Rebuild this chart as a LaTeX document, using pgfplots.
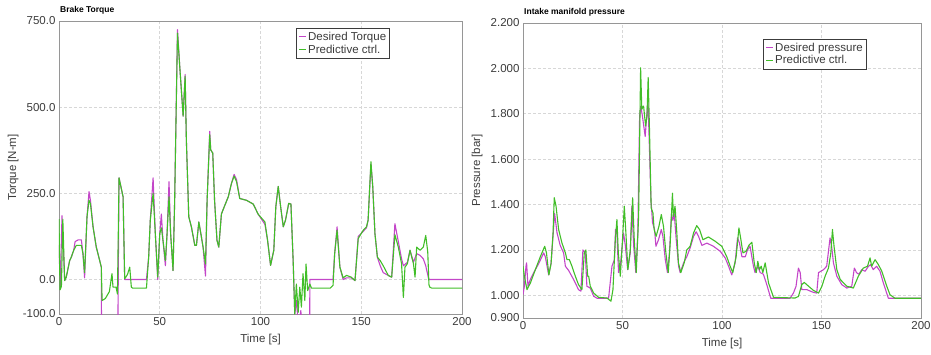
\documentclass[border=0pt]{standalone}
\usepackage{pgfplots}
\pgfplotsset{compat=1.18}
\usepackage{fontspec}
\setmainfont{Liberation Sans}
\definecolor{cmag}{RGB}{195,70,200}
\definecolor{cgrn}{RGB}{65,190,40}
\definecolor{cframe}{RGB}{150,150,150}
\definecolor{cgrid}{RGB}{215,215,215}
\definecolor{ctext}{RGB}{60,60,60}
\pgfplotsset{
  common/.style={
    scale only axis,
    anchor=south west,
    xmin=0, xmax=200,
    xtick={0,50,100,150,200},
    grid=major,
    major grid style={dash pattern=on 3pt off 2pt, cgrid, line width=0.6pt},
    axis line style={cframe, line width=0.8pt},
    major tick length=0pt,
    tick label style={font=\fontsize{11.5}{12}\selectfont, text=ctext},
    label style={font=\fontsize{11.5}{12}\selectfont, text=ctext},
    /pgf/number format/assume math mode=true,
    xticklabel style={/pgf/number format/precision=0},
    legend cell align=left,
    legend style={draw=ctext, line width=0.6pt, font=\fontsize{11.5}{15}\selectfont, text=ctext,
      inner xsep=2pt, inner ysep=2pt, anchor=north west, row sep=0pt,
      nodes={inner sep=1.5pt}},
    legend image code/.code={\draw[line width=1.4pt, #1] (0pt,0pt) -- (7pt,0pt);},
    every axis plot/.append style={line width=1.1pt, line join=round},
    title style={font=\fontsize{8.5}{9}\selectfont\bfseries, anchor=south west, at={(0,1)}, inner sep=1pt},
  }
}
\pgfplotstableread{
t v
0 100
0.6 -20
1.5 185
2.8 -3
3.6 7
5.3 55
6.1 65
7.3 85
8 110
9.5 115
11.1 115
11.9 75
12.7 5
13.9 182
14.9 255
15.6 230
16.9 153
18.5 94
20.2 55
21.0 36
21.1 -150
29.2 -150
29.8 295
31.8 240
32.6 0
43.4 0
44.5 65
45.3 172
46.7 295
47.8 133
49.0 0
50 133
50.8 190
51.6 114
52.8 40
53.6 130
54.6 284
55.4 133
56.6 26
57.4 230
58.8 725
59.9 620
60.7 552
61.6 474
62.6 595
63.2 406
64.4 182
65.7 153
67.4 99
68.2 99
69.4 167
70.4 133
71.5 94
72.7 10
73.5 230
74.8 430
75.3 376
76.3 367
77.2 230
78.4 114
79.3 94
80.6 190
82 211
84 240
85.6 279
86.9 305
88.1 290
89.7 235
93 230
96.4 219
98.8 190
102.2 160
103.5 114
105 41
106.6 85
107.6 211
108.8 270
110 211
111.3 153
112.4 172
114 221
115.1 219
116.2 55
117 -100
118 -60
118.7 -150
120 -90
120.8 -150
124.4 -150
124.5 0
136 0
136.8 75
138 153
139.4 36
141 0
142.7 5
145 5
146.9 -3
148.5 125
151 140
152.6 150
153.4 172
154.8 335
155.7 270
156.8 133
158 65
159.4 40
160.9 20
163.4 12
165.1 7
166.7 162
168.4 110
170 60
170.9 40
172.9 50
174.2 85
175.9 50
177.5 75
179.2 70
180.8 60
182 40
183.5 0
200 0
}\torqdes
\pgfplotstableread{
t v
0 175
0.5 -30
1.2 -20
1.9 175
2.8 -3
3.6 7
5.3 55
6.1 65
7.3 85
8.6 99
11.1 99
11.9 75
12.7 20
13.9 182
14.9 230
15.6 220
16.9 153
18.5 94
20.2 55
21.0 36
21.4 -61
23 -55
25 -35
26.3 17
26.8 -22
28.3 -22
29.0 -42
29.8 295
31.8 240
32.6 2
34 15
35.1 36
35.9 -22
36.5 -25
43.4 -25
44.5 65
45.3 172
46.7 250
47.8 133
49.0 7
50 133
50.8 150
51.6 114
52.8 55
53.6 130
54.6 240
55.4 133
56.6 26
57.4 230
58.8 715
59.9 620
60.7 552
61.6 474
62.6 590
63.2 406
64.4 182
65.7 153
67.4 99
68.2 99
69.4 167
70.4 133
71.5 94
72.7 45
73.5 230
74.8 420
75.3 376
76.3 367
77.2 230
78.4 114
79.3 94
80.6 190
82 211
84 240
85.6 279
86.9 300
88.1 284
89.7 235
93 230
96.4 219
98.8 190
102.2 167
103.5 114
105 41
106.6 85
107.6 211
108.8 270
110 211
111.3 153
112.4 172
114 221
115.1 219
116.2 55
117 -100
117.8 -13
118.7 -95
119.5 -22
120.3 -80
121.1 17
122 -61
122.6 45
123.4 -32
124.5 -13
125.3 -25
134.6 -25
136 -17
136.8 75
138 143
139.4 36
141 5
142.7 12
145 7
146.9 -3
148.5 119
151 143
152.6 153
153.4 172
154.8 342
155.7 270
156.8 133
158 65
159.4 55
160.9 40
163.4 12
165.1 7
166.7 130
168.4 94
170 46
170.9 -52
171.7 36
172.9 46
174.2 85
175.9 46
176.7 7
177.5 94
179.2 85
180.8 94
182 128
183 80
183.6 -15
184 -22
185 -25
200 -25
}\torqpred
\pgfplotstableread{
t v
0 1.003
0.7 1.04
1.5 1.128
1.8 1.143
2.5 1.04
3.7 1.07
5.4 1.10
7.9 1.14
10.4 1.187
11.2 1.17
12.9 1.09
14.1 1.14
15.4 1.30
15.9 1.36
17.1 1.275
18.7 1.22
20.4 1.187
21.3 1.128
22.9 1.11
25.4 1.07
27.9 1.025
29.1 1.018
30.1 1.20
31.3 1.187
32.1 1.04
33.8 1.032
35.5 0.996
37.2 0.987
43.0 0.987
44.7 1.128
45.9 1.157
46.5 1.29
47.2 1.27
48.0 1.10
48.9 1.128
50.5 1.275
51.4 1.22
52.6 1.113
53.9 1.187
54.7 1.393
55.6 1.22
56.7 1.10
57.7 1.275
58.6 1.79
59.2 1.834
60.0 1.79
61.4 1.70
62.8 1.863
63.4 1.687
64.3 1.42
65.1 1.32
66.1 1.29
66.8 1.216
68.1 1.245
69.5 1.29
70.3 1.26
71.5 1.157
72.6 1.10
73.6 1.187
74.6 1.36
75.3 1.33
76.0 1.36
77.0 1.245
78.2 1.128
79.0 1.10
80.7 1.143
82.3 1.17
84.0 1.209
85.7 1.26
87.0 1.28
88.2 1.26
89.9 1.22
92.4 1.23
95.7 1.216
99.1 1.194
101.6 1.165
103.3 1.128
104.9 1.09
106.6 1.143
107.8 1.253
108.8 1.23
110.0 1.17
111.7 1.17
112.8 1.20
114.1 1.216
115.8 1.128
116.6 1.10
118.0 1.128
119.2 1.10
120.8 1.093
122.5 1.047
124.5 0.987
134.2 0.987
135.9 1.01
137.2 1.04
138.4 1.12
139.3 1.10
140.1 1.025
142.6 1.025
145.9 1.013
147.6 1.01
148.5 1.10
151.0 1.113
152.6 1.128
154.3 1.253
155.1 1.216
156.0 1.143
157.7 1.084
160.2 1.047
162.7 1.032
165.2 1.04
166.5 1.12
167.6 1.10
168.8 1.093
170.2 1.113
171.9 1.106
173.6 1.128
174.7 1.135
176.0 1.113
177.7 1.128
179.4 1.106
181.1 1.054
183.6 0.987
200 0.987
}\presdes
\pgfplotstableread{
t v
0 1.128
0.7 1.084
2.0 1.025
3.7 1.054
6.2 1.113
8.7 1.17
10.9 1.216
11.8 1.187
13.0 1.09
14.1 1.14
15.1 1.275
15.7 1.43
16.6 1.393
17.9 1.29
19.6 1.23
21.3 1.187
22.1 1.157
23.3 1.157
24.6 1.128
26.3 1.084
27.9 1.047
29.6 1.025
30.8 1.187
31.6 1.20
32.5 1.084
33.0 1.084
33.8 1.04
35.5 1.01
38.0 0.991
42.2 0.988
44.2 0.974
45.2 1.025
46.4 1.245
47.2 1.334
47.9 1.187
48.9 1.084
50.0 1.245
50.9 1.393
51.7 1.275
52.7 1.113
53.9 1.20
55.1 1.43
55.9 1.245
56.9 1.10
58.1 1.348
59.1 2.003
59.7 1.82
60.6 1.834
61.6 1.746
62.3 1.79
62.9 1.96
63.6 1.716
64.4 1.385
65.3 1.363
65.9 1.29
66.9 1.26
68.3 1.304
69.5 1.356
70.6 1.304
71.8 1.187
73.0 1.10
74.0 1.234
75.1 1.45
75.6 1.348
76.4 1.393
77.3 1.275
78.1 1.143
79.3 1.10
81.0 1.143
82.3 1.20
84.0 1.216
85.7 1.275
87.3 1.307
88.7 1.29
90.4 1.245
93.2 1.257
96.6 1.238
99.9 1.216
102.4 1.17
104.1 1.128
105.4 1.10
107.1 1.17
108.5 1.297
109.5 1.245
110.5 1.187
112.1 1.194
113.5 1.22
115.0 1.234
116.2 1.143
117.2 1.10
118.0 1.15
118.8 1.113
119.7 1.128
120.5 1.10
121.7 1.143
123.4 1.054
125.9 0.991
136.7 0.988
138.4 0.995
140.1 1.047
141.3 1.057
143.5 1.04
145.9 1.022
148.5 1.01
150.2 1.04
151.8 1.084
153.5 1.12
154.7 1.187
155.5 1.29
156.3 1.216
157.7 1.113
159.4 1.07
162.7 1.04
166.0 1.032
168.5 1.084
171.0 1.12
173.1 1.128
174.4 1.165
175.2 1.128
176.9 1.157
178.6 1.135
180.3 1.106
182.8 1.04
184.4 1.003
186.9 0.987
200 0.987
}\prespred
\begin{document}
\begin{tikzpicture}
\path[use as bounding box] (0pt,0pt) rectangle (931pt,354pt);
\begin{axis}[common,
  at={(59pt,40pt)}, width=403pt, height=293pt,
  ymin=-100, ymax=750,
  ytick={-100,0,250,500,750},
  yticklabel style={/pgf/number format/.cd, fixed, fixed zerofill, precision=1},
  ylabel={Torque [N-m]},
  xlabel={Time [s]},
  ylabel style={at={(axis description cs:0,0.5)}, anchor=south, yshift=37pt},
  xlabel style={at={(axis description cs:0.5,0)}, anchor=north, yshift=-17pt},
  title={Brake Torque},
  legend style={at={(0.588,0.976)}},
]
\addplot[cmag] table[x=t,y=v] {\torqdes};
\addlegendentry{Desired Torque}
\addplot[cgrn] table[x=t,y=v] {\torqpred};
\addlegendentry{Predictive ctrl.}
\end{axis}
\begin{axis}[common,
  at={(523pt,36pt)}, width=398pt, height=295pt,
  ymin=0.9, ymax=2.2,
  ytick={0.9,1.0,1.2,1.4,1.6,1.8,2.0,2.2},
  yticklabel style={/pgf/number format/.cd, fixed, fixed zerofill, precision=3},
  ylabel={Pressure [bar]},
  xlabel={Time [s]},
  ylabel style={at={(axis description cs:0,0.5)}, anchor=south, yshift=37pt},
  xlabel style={at={(axis description cs:0.5,0)}, anchor=north, yshift=-17pt},
  title={Intake manifold pressure},
  legend style={at={(0.603,0.946)}},
]
\addplot[cmag] table[x=t,y=v] {\presdes};
\addlegendentry{Desired pressure}
\addplot[cgrn] table[x=t,y=v] {\prespred};
\addlegendentry{Predictive ctrl.}
\end{axis}
\end{tikzpicture}
\end{document}
